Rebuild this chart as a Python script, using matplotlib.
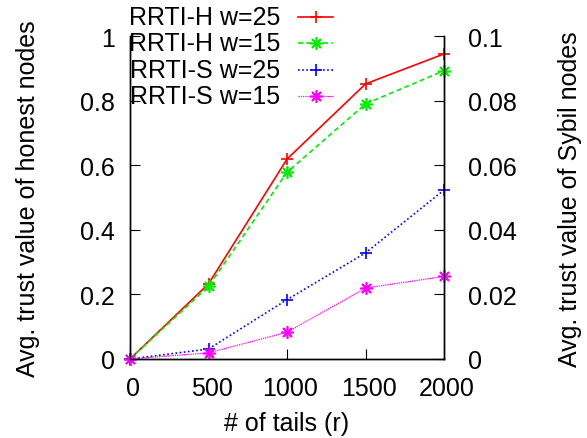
import matplotlib
matplotlib.use('Agg')
import matplotlib.pyplot as plt
import matplotlib.transforms as mtransforms
from matplotlib.lines import Line2D

plt.rcParams['font.family'] = ['Liberation Sans', 'DejaVu Sans']

tails = [0, 500, 1000, 1500, 2000]
honest_w25 = [0.0, 0.233, 0.620, 0.853, 0.946]
honest_w15 = [0.0, 0.225, 0.579, 0.791, 0.894]
sybil_w25 = [0.0, 0.0031, 0.0184, 0.0329, 0.0524]
sybil_w15 = [0.0, 0.0019, 0.0083, 0.0220, 0.0256]

FS = 18
star = (8, 2, 0)  # gnuplot-style asterisk (+ and x)

styles = [
    dict(label='RRTI-H w=25', color='#ff0000', ls='-', lw=1.2, marker='+'),
    dict(label='RRTI-H w=15', color='#00ee00', ls=(0, (3, 2)), lw=1.2, marker=star),
    dict(label='RRTI-S w=25', color='#0000ff', ls=(0, (1, 1.5)), lw=1.2, marker='+'),
    dict(label='RRTI-S w=15', color='#ff00ff', ls=(0, (1, 0.8)), lw=0.9, marker=star),
]

fig = plt.figure(figsize=(5.87, 4.39), dpi=100)
ax = fig.add_axes([0.2215, 0.18, 0.535, 0.7346])
ax2 = ax.twinx()

for a, ys, st in zip([ax, ax, ax2, ax2],
                     [honest_w25, honest_w15, sybil_w25, sybil_w15], styles):
    a.plot(tails, ys, ms=9, mew=1.2, clip_on=False, **st)

ax.set_xlim(0, 2000)
ax.set_ylim(0, 1)
ax2.set_ylim(0, 0.1)
ax.set_xticks([0, 500, 1000, 1500, 2000])
ax.set_yticks([0, 0.2, 0.4, 0.6, 0.8, 1])
ax.set_yticklabels(['0', '0.2', '0.4', '0.6', '0.8', '1'])
ax2.set_yticks([0, 0.02, 0.04, 0.06, 0.08, 0.1])
ax2.set_yticklabels(['0', '0.02', '0.04', '0.06', '0.08', '0.1'])

for a in (ax, ax2):
    a.spines['top'].set_visible(False)
    for s in a.spines.values():
        s.set_linewidth(1.0)
ax.tick_params(axis='y', direction='in', length=7, labelsize=FS, pad=11,
               right=False)
ax.tick_params(axis='x', direction='in', length=7, labelsize=FS, pad=12,
               top=False)
ax2.tick_params(axis='y', direction='in', length=7, labelsize=FS, pad=17)

# x tick labels sit a few pixels right of their ticks
shift = mtransforms.ScaledTranslation(3 / 100, 0, fig.dpi_scale_trans)
for lbl in ax.get_xticklabels():
    lbl.set_transform(lbl.get_transform() + shift)

ax.set_xlabel('# of tails (r)', fontsize=FS, labelpad=8)
ax.set_ylabel('Avg. trust value of honest nodes', fontsize=FS, labelpad=29)
ax2.set_ylabel('Avg. trust value of Sybil nodes', fontsize=FS, labelpad=30,
               rotation=90)

# key in the top-left corner: right-aligned text, sample on the right
W, H = fig.get_size_inches() * fig.dpi
text_right = 280 / W
x0, x1 = 298 / W, 333 / W
for i, st in enumerate(styles):
    y = 1 - (18 + 26.3 * i) / H
    fig.text(text_right, y, st['label'], ha='right', va='center', fontsize=FS)
    fig.add_artist(Line2D([x0, x1], [y, y], transform=fig.transFigure,
                          color=st['color'], ls=st['ls'], lw=st['lw']))
    fig.add_artist(Line2D([(x0 + x1) / 2], [y], transform=fig.transFigure,
                          color=st['color'], ls='none',
                          marker=st['marker'], ms=9, mew=1.2))

fig.savefig('out.png', dpi=100)
